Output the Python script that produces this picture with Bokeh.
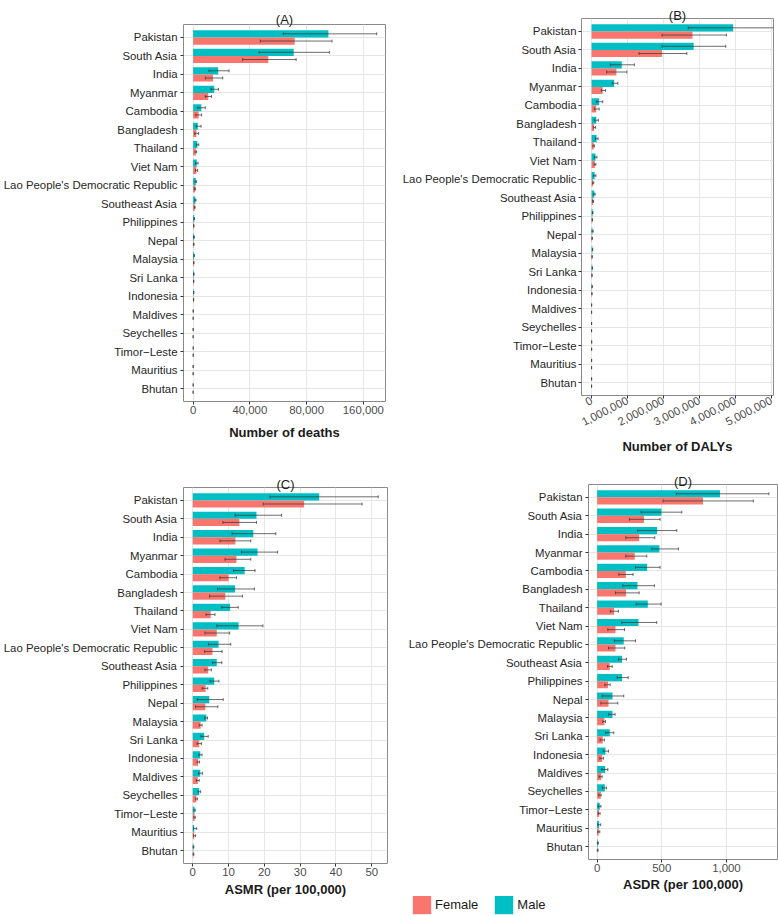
import math

from bokeh.embed import file_html
from bokeh.layouts import column, row
from bokeh.models import (ColumnDataSource, FactorRange, FixedTicker, Legend,
                          LegendItem, NumeralTickFormatter, Range1d)
from bokeh.plotting import figure
from bokeh.resources import INLINE
from bokeh.transform import dodge

# ---------------------------------------------------------------- data
countries = [
    "Pakistan", "South Asia", "India", "Myanmar", "Cambodia", "Bangladesh",
    "Thailand", "Viet Nam", "Lao People's Democratic Republic",
    "Southeast Asia", "Philippines", "Nepal", "Malaysia", "Sri Lanka",
    "Indonesia", "Maldives", "Seychelles", "Timor\u2212Leste", "Mauritius",
    "Bhutan",
]

# (A) number of deaths
deaths_male = [95350, 70900, 17700, 14900, 5800, 3300, 3000, 2600, 1900, 1600,
               800, 600, 700, 500, 400, 50, 20, 60, 30, 30]
deaths_male_lo = [63500, 46500, 11200, 12600, 3300, 2100, 2300, 1800, 1400, 1200,
                  600, 300, 550, 350, 300, 35, 15, 40, 20, 20]
deaths_male_hi = [129400, 96100, 25300, 17900, 8600, 5600, 4000, 3500, 2300, 2000,
                  1000, 1000, 900, 700, 550, 70, 30, 85, 45, 45]
deaths_female = [71600, 53000, 14000, 10700, 3900, 2300, 1900, 2300, 1400, 1100,
                 500, 400, 500, 400, 300, 30, 10, 40, 20, 20]
deaths_female_lo = [47400, 34900, 8600, 8600, 1900, 1100, 1400, 1600, 900, 800,
                    350, 200, 380, 280, 220, 20, 7, 25, 12, 12]
deaths_female_hi = [97900, 72600, 20900, 13000, 6000, 3900, 2500, 3200, 1700, 1400,
                    650, 700, 650, 550, 400, 45, 15, 60, 30, 30]

# (B) number of DALYs
dalys_male = [3936000, 2840000, 840000, 630000, 210000, 130000, 140000, 110000,
              85000, 75000, 30000, 25000, 25000, 20000, 15000, 2000, 1000, 3000,
              1500, 1500]
dalys_male_lo = [2690000, 1960000, 520000, 575000, 140000, 90000, 110000, 80000,
                 60000, 60000, 22000, 12000, 20000, 14000, 11000, 1400, 700, 2000,
                 1000, 1000]
dalys_male_hi = [5200000, 3730000, 1190000, 730000, 310000, 190000, 180000, 150000,
                 120000, 100000, 40000, 45000, 32000, 27000, 20000, 2800, 1400, 4300,
                 2200, 2200]
dalys_female = [2806000, 1960000, 690000, 310000, 130000, 70000, 60000, 90000,
                40000, 40000, 20000, 15000, 15000, 12000, 10000, 1000, 500, 2000,
                1000, 1000]
dalys_female_lo = [1960000, 1320000, 420000, 270000, 80000, 50000, 40000, 70000,
                   30000, 30000, 14000, 7000, 11000, 8000, 7000, 700, 350, 1300,
                   600, 600]
dalys_female_hi = [3750000, 2650000, 980000, 390000, 210000, 110000, 80000, 120000,
                   60000, 55000, 27000, 28000, 20000, 17000, 14000, 1400, 700, 2800,
                   1500, 1500]

# (C) age-standardised mortality rate
asmr_male = [35.3, 17.8, 16.9, 18.1, 14.5, 11.8, 10.4, 12.8, 7.2, 6.7, 6.0, 4.6,
             3.8, 3.2, 2.1, 2.1, 1.8, 0.5, 0.4, 0.2]
asmr_male_lo = [21.6, 11.8, 11.0, 13.6, 11.4, 6.9, 8.1, 6.7, 4.4, 5.5, 4.8, 1.3,
                3.3, 2.3, 1.7, 1.6, 1.5, 0.3, 0.2, 0.1]
asmr_male_hi = [51.8, 24.8, 23.2, 23.7, 17.4, 17.2, 12.7, 19.6, 10.6, 8.1, 7.3, 8.5,
                4.1, 4.3, 2.6, 2.7, 2.2, 0.7, 1.1, 0.3]
asmr_female = [31.1, 13.0, 11.9, 12.2, 10.0, 9.1, 5.0, 6.7, 5.5, 4.3, 3.6, 3.5,
               2.2, 1.8, 1.5, 1.4, 1.0, 0.5, 0.4, 0.2]
asmr_female_lo = [19.7, 8.4, 7.6, 9.0, 7.6, 4.7, 3.7, 3.4, 3.3, 3.4, 2.6, 0.8,
                  1.8, 1.2, 1.2, 1.0, 0.8, 0.3, 0.2, 0.1]
asmr_female_hi = [47.3, 17.8, 16.2, 16.2, 12.2, 13.9, 6.2, 10.3, 8.2, 5.2, 4.2, 7.0,
                  2.6, 2.4, 1.9, 1.8, 1.3, 0.7, 0.8, 0.3]

# (D) age-standardised DALY rate
asdr_male = [950, 497, 464, 482, 386, 312, 392, 320, 206, 193, 193, 119, 119, 98,
             65, 62, 60, 21, 15, 5]
asdr_male_lo = [613, 340, 314, 423, 297, 199, 302, 191, 134, 165, 155, 39, 90, 67,
                47, 36, 41, 8, 5, 2]
asdr_male_hi = [1329, 655, 616, 629, 487, 443, 495, 461, 297, 227, 240, 206, 139,
                129, 88, 83, 72, 30, 28, 10]
asdr_female = [819, 363, 325, 291, 222, 224, 131, 142, 142, 98, 85, 88, 57, 44, 39,
               31, 28, 15, 13, 3]
asdr_female_lo = [510, 250, 222, 222, 168, 142, 103, 83, 88, 81, 60, 29, 44, 23, 21,
                  15, 13, 8, 5, 1]
asdr_female_hi = [1208, 487, 446, 384, 278, 325, 165, 212, 214, 117, 101, 160, 65,
                  57, 49, 39, 31, 23, 21, 8]

# axis ticks and their labels
deaths_ticks = [0, 40000, 80000, 120000]
deaths_tick_labels = ["0", "40,000", "80,000", "160,000"]
dalys_ticks = [0, 1000000, 2000000, 3000000, 4000000, 5000000]
asmr_ticks = [0, 10, 20, 30, 40, 50]
asdr_ticks = [0, 500, 1000]

# ---------------------------------------------------------------- style
FEMALE = "#F8766D"
MALE = "#00BFC4"
FONT = "Liberation Sans"
GRID = "#E6E6E6"
ERR = "#333333"
BAR_H = 0.39
OFF = 0.195
CAP = 0.08


def panel(title, male, male_lo, male_hi, female, female_lo, female_hi,
          x_start, x_end, ticks, xlabel, width, height, borders,
          tick_labels=None, label_angle=None, y_standoff=3,
          x_standoff=1, xlabel_standoff=4, title_dx=0, title_standoff=-7):
    left, right, top, bottom = borders
    src = ColumnDataSource(dict(
        country=countries, male=male, male_lo=male_lo, male_hi=male_hi,
        female=female, female_lo=female_lo, female_hi=female_hi))
    yr = FactorRange(*reversed(countries), range_padding=0.2,
                     range_padding_units="absolute")
    p = figure(width=width, height=height, y_range=yr,
               x_range=Range1d(x_start, x_end), title=title,
               toolbar_location=None, output_backend="svg",
               min_border_left=left, min_border_right=right,
               min_border_top=top, min_border_bottom=bottom)
    p.background_fill_color = "white"
    p.border_fill_color = "white"
    p.outline_line_color = "#8A8A8A"
    p.outline_line_width = 1

    p.title.align = "center"
    p.title.offset = title_dx
    p.title.text_font = FONT
    p.title.text_font_size = "13px"
    p.title.text_font_style = "normal"
    p.title.text_color = "#1A1A1A"
    p.title.standoff = title_standoff

    y_m = dodge("country", OFF, range=yr)
    y_f = dodge("country", -OFF, range=yr)

    p.hbar(y=y_m, left=0, right="male", height=BAR_H, source=src,
           fill_color=MALE, line_color=None)
    p.hbar(y=y_f, left=0, right="female", height=BAR_H, source=src,
           fill_color=FEMALE, line_color=None)

    for key, off in (("male", OFF), ("female", -OFF)):
        yc = dodge("country", off, range=yr)
        p.segment(x0=key + "_lo", y0=yc, x1=key + "_hi", y1=yc, source=src,
                  line_color=ERR, line_alpha=0.8, line_width=0.9)
        for end in ("_lo", "_hi"):
            p.segment(x0=key + end, y0=dodge("country", off - CAP, range=yr),
                      x1=key + end, y1=dodge("country", off + CAP, range=yr),
                      source=src, line_color=ERR, line_alpha=0.8,
                      line_width=0.9)

    ticker = FixedTicker(ticks=ticks)
    p.xaxis.ticker = ticker
    p.xgrid.ticker = ticker
    p.xaxis.formatter = NumeralTickFormatter(format="0,0")
    if tick_labels is not None:
        p.xaxis.major_label_overrides = dict(zip(ticks, tick_labels))
    if label_angle is not None:
        p.xaxis.major_label_orientation = math.radians(label_angle)
    p.xgrid.grid_line_color = GRID
    p.ygrid.grid_line_color = GRID
    p.xgrid.minor_grid_line_color = None

    for ax in (p.xaxis, p.yaxis):
        ax.axis_line_color = None
        ax.major_tick_line_color = "#333333"
        ax.major_tick_in = 0
        ax.major_tick_out = 3
        ax.minor_tick_line_color = None
        ax.major_label_text_font = FONT
        ax.major_label_text_font_size = "11.4px"
    p.yaxis.major_label_text_color = "#262626"
    p.yaxis.major_label_standoff = y_standoff
    p.xaxis.major_label_text_color = "#4D4D4D"
    p.xaxis.major_label_standoff = x_standoff

    p.xaxis.axis_label = xlabel
    p.xaxis.axis_label_text_font = FONT
    p.xaxis.axis_label_text_font_size = "13px"
    p.xaxis.axis_label_text_font_style = "bold"
    p.xaxis.axis_label_text_color = "#1A1A1A"
    p.xaxis.axis_label_standoff = xlabel_standoff
    return p


pa = panel("(A)", deaths_male, deaths_male_lo, deaths_male_hi, deaths_female,
           deaths_female_lo, deaths_female_hi, -6770, 135600, deaths_ticks,
           "Number of deaths", 390, 470, (181, 5, 24, 69),
           tick_labels=deaths_tick_labels, xlabel_standoff=8, title_dx=-6,
           title_standoff=-4)
pb = panel("(B)", dalys_male, dalys_male_lo, dalys_male_hi, dalys_female,
           dalys_female_lo, dalys_female_hi, -280000, 5060000, dalys_ticks,
           "Number of DALYs", 388, 470, (191, 5, 18, 75), label_angle=27,
           y_standoff=2, xlabel_standoff=6, title_dx=5, title_standoff=-8)
pc = panel("(C)", asmr_male, asmr_male_lo, asmr_male_hi, asmr_female,
           asmr_female_lo, asmr_female_hi, -2.59, 54.4, asmr_ticks,
           "ASMR (per 100,000)", 390, 446, (183, 3, 17, 53), xlabel_standoff=3,
           title_dx=-5, title_standoff=-8)
pd = panel("(D)", asdr_male, asdr_male_lo, asdr_male_hi, asdr_female,
           asdr_female_lo, asdr_female_hi, -66.5, 1395, asdr_ticks,
           "ASDR (per 100,000)", 388, 426, (198, 1, 14, 37), x_standoff=1,
           xlabel_standoff=2, title_dx=11, title_standoff=-9)

# shared legend below panel D
lg = figure(width=388, height=20, toolbar_location=None, output_backend="svg",
            x_axis_location=None, y_axis_location=None, min_border=0,
            x_range=Range1d(1, 2), y_range=Range1d(1, 2))
lg.outline_line_color = None
lg.grid.visible = False
r_f = lg.hbar(y=[0], left=[0], right=[0], height=0.5, fill_color=FEMALE,
              line_color=None)
r_m = lg.hbar(y=[0], left=[0], right=[0], height=0.5, fill_color=MALE,
              line_color=None)
legend = Legend(items=[LegendItem(label="Female", renderers=[r_f]),
                       LegendItem(label="Male", renderers=[r_m])],
                orientation="horizontal", location=(20, 0),
                glyph_width=23, glyph_height=23, label_standoff=2, spacing=14,
                padding=0, margin=0, border_line_color=None,
                background_fill_alpha=0, label_text_font=FONT,
                label_text_font_size="13px", label_text_color="#1A1A1A")
lg.add_layout(legend)

layout = column(row(column(pa), column(pb)),
                row(column(pc), column(column(pd), column(lg))))

open("out.html", "w").write(file_html(layout, INLINE))
